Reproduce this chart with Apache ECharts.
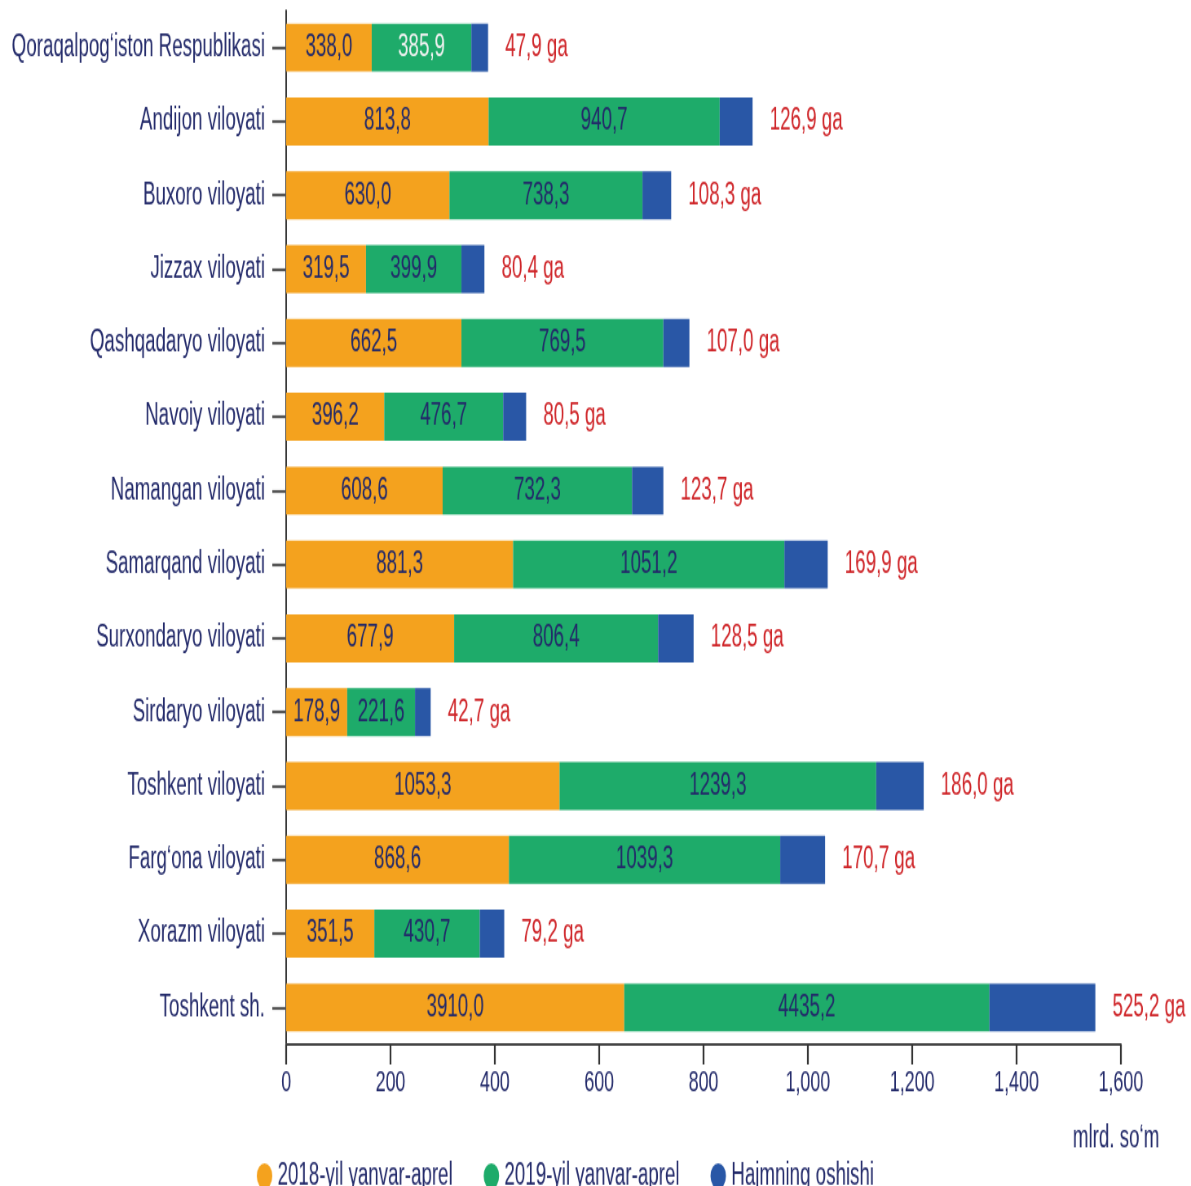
<!DOCTYPE html>
<html>
<head>
<meta charset="utf-8">
<title>Hududlar</title>
<script src="https://cdn.jsdelivr.net/npm/echarts@6/dist/echarts.min.js"></script>
<style>
  html, body { margin: 0; padding: 0; background: #fff; }
  #wrap { width: 1191px; height: 1186px; overflow: hidden; position: relative; }
  /* the source picture is squeezed sideways and stretched in height:
     draw at 1461x888 and scale to 1191x1186 */
  #chart { position: absolute; left: 0; top: 0; width: 1461px; height: 888px;
           transform: scale(0.81519, 1.33559); transform-origin: 0 0; }
</style>
</head>
<body>
<div id="wrap"><div id="chart"></div></div>
<script type="text/javascript">
var categories = ["Qoraqalpog‘iston Respublikasi", "Andijon viloyati", "Buxoro viloyati", "Jizzax viloyati",
  "Qashqadaryo viloyati", "Navoiy viloyati", "Namangan viloyati", "Samarqand viloyati",
  "Surxondaryo viloyati", "Sirdaryo viloyati", "Toshkent viloyati", "Farg‘ona viloyati",
  "Xorazm viloyati", "Toshkent sh."];

// bar lengths as drawn in the picture (axis units)
var bar2018 = [164, 388, 313, 153, 336, 188, 300, 435, 322, 117, 524, 427, 169, 648];
var bar2019 = [191, 443, 370, 183, 387, 228, 363, 520, 391, 130, 607, 520, 202, 700];
var barGrowth = [32, 63, 55, 44, 50, 44, 60, 83, 68, 30, 91, 86, 47, 203];

// printed values
var labels2018 = ["338,0", "813,8", "630,0", "319,5", "662,5", "396,2", "608,6", "881,3", "677,9", "178,9", "1053,3", "868,6", "351,5", "3910,0"];
var labels2019 = ["385,9", "940,7", "738,3", "399,9", "769,5", "476,7", "732,3", "1051,2", "806,4", "221,6", "1239,3", "1039,3", "430,7", "4435,2"];
var labelsGrowth = ["47,9", "126,9", "108,3", "80,4", "107,0", "80,5", "123,7", "169,9", "128,5", "42,7", "186,0", "170,7", "79,2", "525,2"];

var xTicks = [0, 200, 400, 600, 800, 1000, 1200, 1400, 1600];
var seriesNames = ["2018-yil yanvar-aprel", "2019-yil yanvar-aprel", "Hajmning oshishi"];

var FONT = '"Liberation Sans", Arial, sans-serif';
var NAVY = '#232a6a';

var myChart = echarts.init(document.getElementById('chart'));

var data2019 = bar2019.map(function (v, i) {
  // first green label is light in the picture
  if (i == 0) return { value: v, label: { color: '#f2f2f2' } };
  return v;
});

var option = {
  animation: false,
  textStyle: { fontFamily: FONT },
  grid: { left: 351, right: 86, top: 8, height: 774, outerBoundsMode: 'none' },
  legend: {
    left: 310,
    top: 864,
    icon: 'path://M50,0A50,50,0,1,1,49.99,0Z',
    itemWidth: 22,
    itemHeight: 19,
    itemGap: 38,
    textStyle: { fontFamily: FONT, fontSize: 23, color: NAVY },
    data: seriesNames
  },
  xAxis: {
    type: 'value',
    min: xTicks[0],
    max: xTicks[xTicks.length - 1],
    interval: 200,
    splitLine: { show: false },
    axisLine: { show: true, lineStyle: { color: '#444', width: 2 } },
    axisTick: { show: true, length: 15, lineStyle: { color: '#333', width: 2.2 } },
    axisLabel: {
      margin: 18,
      fontFamily: FONT,
      fontSize: 22,
      color: NAVY,
      formatter: function (v) { return v.toLocaleString('en-US'); }
    }
  },
  yAxis: {
    type: 'category',
    inverse: true,
    data: categories,
    axisLine: { show: true, lineStyle: { color: '#222', width: 1.8 } },
    axisTick: { show: true, length: 17, alignWithLabel: true, lineStyle: { color: '#555', width: 2.2 } },
    axisLabel: { margin: 26, padding: [6, 0, 0, 0], fontFamily: FONT, fontSize: 23, color: NAVY }
  },
  graphic: [{
    type: 'text',
    left: 1316,
    top: 841,
    style: { text: 'mlrd. so‘m', font: '23px ' + FONT, fill: NAVY }
  }],
  series: [
    {
      name: seriesNames[0],
      type: 'bar',
      stack: 'total',
      barCategoryGap: '35%',
      itemStyle: { color: '#f4a21e' },
      label: {
        show: true, position: 'inside', fontFamily: FONT, fontSize: 23, color: NAVY,
        formatter: function (p) { return labels2018[p.dataIndex]; }
      },
      data: bar2018
    },
    {
      name: seriesNames[1],
      type: 'bar',
      stack: 'total',
      itemStyle: { color: '#1eab6a' },
      label: {
        show: true, position: 'inside', fontFamily: FONT, fontSize: 23, color: NAVY,
        formatter: function (p) { return labels2019[p.dataIndex]; }
      },
      data: data2019
    },
    {
      name: seriesNames[2],
      type: 'bar',
      stack: 'total',
      itemStyle: { color: '#2957a6' },
      label: {
        show: true, position: 'right', distance: 21, fontFamily: FONT, fontSize: 23, color: '#cf2529',
        formatter: function (p) { return labelsGrowth[p.dataIndex] + ' ga'; }
      },
      data: barGrowth
    }
  ]
};

myChart.setOption(option);
</script>
</body>
</html>
